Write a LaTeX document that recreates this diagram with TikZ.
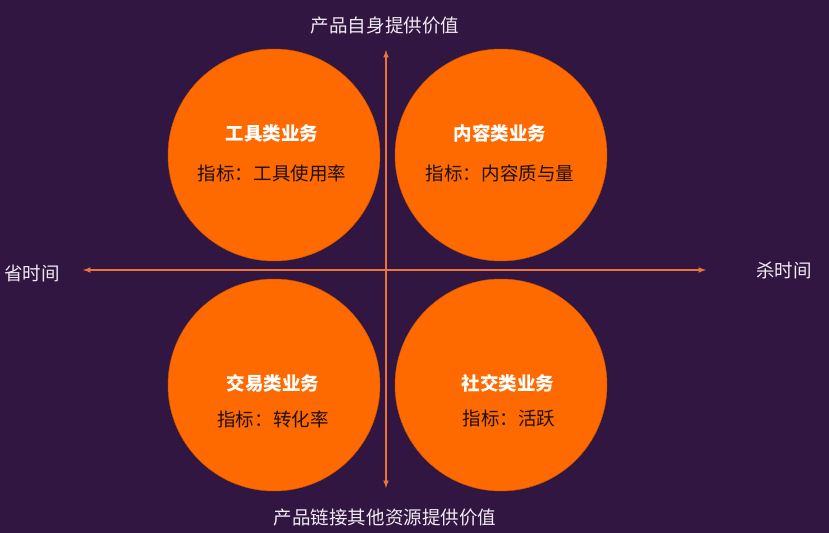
\documentclass[tikz,border=0pt]{standalone}
\usepackage{fontspec}
\setmainfont{Noto Sans CJK SC}
\usetikzlibrary{positioning,arrows}
\definecolor{bgpurple}{HTML}{311641}
\definecolor{ballorange}{HTML}{FF6A00}
\definecolor{axisorange}{HTML}{EC7438}
\definecolor{labelwhite}{HTML}{F1EAF3}
\definecolor{metricdark}{HTML}{1C0F0C}

\begin{document}
\begin{tikzpicture}[
x=0.03cm,y=-0.03cm,
ball/.style={
  circle,
  fill=ballorange,
  draw=ballorange!80!black,
  line width=0.4pt,
  minimum size=6.36cm,
  inner sep=0pt
},
title/.style={
  text=white,
  font=\fontsize{15.8}{18}\selectfont\bfseries,
  inner sep=0pt
},
metric/.style={
  text=metricdark,
  font=\fontsize{15.8}{18}\selectfont,
  inner sep=0pt
},
axislabel/.style={
  text=labelwhite,
  font=\fontsize{15.8}{18}\selectfont,
  inner sep=0pt
},
axis/.style={
  draw=axisorange,
  line width=1.2pt,
  latex-latex
}
]
% background and size
\fill[bgpurple] (0,0) rectangle (829,533);
\useasboundingbox (0,0) rectangle (829,533);

% the four quadrants
\node[ball] (tool) at (274,155) {};
\node[ball] (content) at (501,155) {};
\node[ball] (trade) at (274,385) {};
\node[ball] (social) at (501,385) {};

\node[title] (tooltitle) at (272,133) {工具类业务};
\node[metric] (toolmetric) at (272,173) {指标：工具使用率};
\node[title] (contenttitle) at (500,133) {内容类业务};
\node[metric] (contentmetric) at (500,173) {指标：内容质与量};
\node[title] (tradetitle) at (273,383) {交易类业务};
\node[metric] (trademetric) at (273,419) {指标：转化率};
\node[title] (socialtitle) at (508,383) {社交类业务};
\node[metric] (socialmetric) at (509,419) {指标：活跃};

% axes
\coordinate (north) at (386,50);
\coordinate (south) at (386,488);
\coordinate (west) at (83,270);
\coordinate (east) at (706,270);
\draw[axis] (west) -- (east);
\draw[axis] (south) -- (north);

\node[axislabel] (own) at (385,26) {产品自身提供价值};
\node[axislabel] (other) at (385,518) {产品链接其他资源提供价值};
\node[axislabel] (save) at (32,273) {省时间};
\node[axislabel] (kill) at (784,270) {杀时间};
\end{tikzpicture}
\end{document}
